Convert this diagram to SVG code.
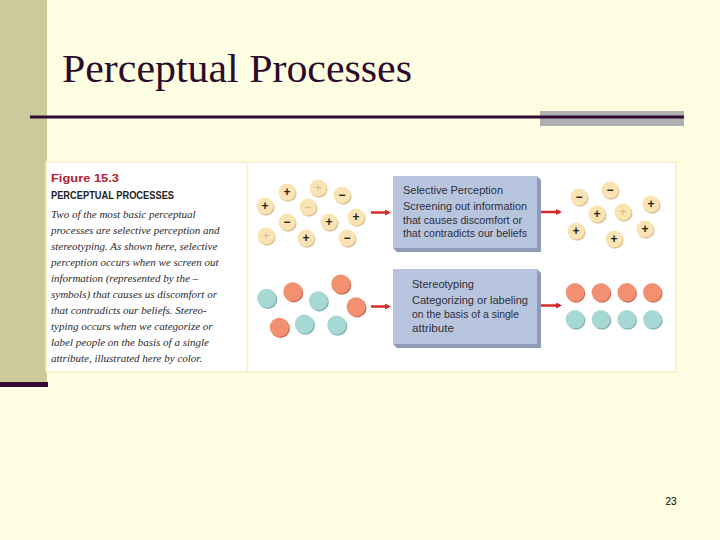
<svg xmlns="http://www.w3.org/2000/svg" width="720" height="540" viewBox="0 0 720 540">
  <defs>
    <style>
      .cap { font-family: "Liberation Serif", serif; font-style: italic; font-size: 11px; fill: #2a2a2a; }
      .boxt { font-family: "Liberation Sans", "DejaVu Sans", sans-serif; font-size: 10.5px; fill: #2e2e38; }
      .sym { font-family: "Liberation Sans", sans-serif; font-weight: bold; font-size: 12px; text-anchor: middle; fill: #222; }
      .faint { fill: #c9b48e; font-weight: normal; }
      .chip { fill: #fbe4b4; }
      .chipsh { fill: #dcc294; }
      .sal { fill: #f39072; }
      .salsh { fill: #cf6e55; }
      .teal { fill: #a6d8d4; }
      .tealsh { fill: #7fb5b2; }
      .arrow { stroke: #d42a2a; stroke-width: 2.5; fill: none; }
    </style>
    <marker id="ah" markerWidth="6" markerHeight="6" refX="4" refY="3" orient="auto" markerUnits="userSpaceOnUse">
      <path d="M0,0 L6,3 L0,6 Z" fill="#d42a2a"/>
    </marker>
  </defs>

  <!-- background -->
  <rect x="0" y="0" width="720" height="540" fill="#fefee2"/>
  <rect x="0" y="0" width="47" height="383" fill="#cbca9a"/>
  <rect x="0" y="382" width="48" height="5" fill="#330a33"/>

  <!-- title -->
  <text x="62" y="82" font-family="Liberation Serif, serif" font-size="41" fill="#2b0a2b" textLength="350" lengthAdjust="spacingAndGlyphs">Perceptual Processes</text>
  <rect x="540" y="111" width="144" height="15" fill="#b0b0b0"/>
  <rect x="30" y="115.5" width="654" height="3" fill="#330a33"/>

  <!-- figure frame -->
  <rect x="46" y="162" width="630" height="210" fill="#ffffff" stroke="#f4efc6" stroke-width="1.5"/>
  <line x1="247" y1="163" x2="247" y2="371" stroke="#f6f2d2" stroke-width="1.5"/>

  <!-- caption -->
  <g id="caption">
    <text x="51" y="182" font-family="Liberation Sans, sans-serif" font-weight="bold" font-size="11.5" fill="#b3202e" textLength="68" lengthAdjust="spacingAndGlyphs">Figure 15.3</text>
    <text x="51" y="199" font-family="Liberation Sans, sans-serif" font-weight="bold" font-size="10" fill="#222" textLength="123" lengthAdjust="spacingAndGlyphs">PERCEPTUAL PROCESSES</text>
    <text class="cap" x="51" y="218">Two of the most basic perceptual</text>
    <text class="cap" x="51" y="234">processes are selective perception and</text>
    <text class="cap" x="51" y="250">stereotyping. As shown here, selective</text>
    <text class="cap" x="51" y="266">perception occurs when we screen out</text>
    <text class="cap" x="51" y="282">information (represented by the –</text>
    <text class="cap" x="51" y="298">symbols) that causes us discomfort or</text>
    <text class="cap" x="51" y="314">that contradicts our beliefs. Stereo-</text>
    <text class="cap" x="51" y="330">typing occurs when we categorize or</text>
    <text class="cap" x="51" y="346">label people on the basis of a single</text>
    <text class="cap" x="51" y="362">attribute, illustrated here by color.</text>
  </g>

  <!-- input cluster: plus/minus chips -->
  <g id="chips-in">
    <g transform="translate(287,192)"><circle class="chipsh" cx="1" cy="1.2" r="8.5"/><circle class="chip" r="8.5"/><text class="sym" y="4">+</text></g>
    <g transform="translate(318,188)"><circle class="chipsh" cx="1" cy="1.2" r="8.5"/><circle class="chip" r="8.5"/><text class="sym faint" y="4">+</text></g>
    <g transform="translate(342,195)"><circle class="chipsh" cx="1" cy="1.2" r="8.5"/><circle class="chip" r="8.5"/><text class="sym" y="4">−</text></g>
    <g transform="translate(265,206)"><circle class="chipsh" cx="1" cy="1.2" r="8.5"/><circle class="chip" r="8.5"/><text class="sym" y="4">+</text></g>
    <g transform="translate(308,207)"><circle class="chipsh" cx="1" cy="1.2" r="8.5"/><circle class="chip" r="8.5"/><text class="sym faint" y="4">−</text></g>
    <g transform="translate(287,222)"><circle class="chipsh" cx="1" cy="1.2" r="8.5"/><circle class="chip" r="8.5"/><text class="sym" y="4">−</text></g>
    <g transform="translate(329,222)"><circle class="chipsh" cx="1" cy="1.2" r="8.5"/><circle class="chip" r="8.5"/><text class="sym" y="4">+</text></g>
    <g transform="translate(356,217)"><circle class="chipsh" cx="1" cy="1.2" r="8.5"/><circle class="chip" r="8.5"/><text class="sym" y="4">+</text></g>
    <g transform="translate(266,236)"><circle class="chipsh" cx="1" cy="1.2" r="8.5"/><circle class="chip" r="8.5"/><text class="sym faint" y="4">+</text></g>
    <g transform="translate(306,238)"><circle class="chipsh" cx="1" cy="1.2" r="8.5"/><circle class="chip" r="8.5"/><text class="sym" y="4">+</text></g>
    <g transform="translate(347,238)"><circle class="chipsh" cx="1" cy="1.2" r="8.5"/><circle class="chip" r="8.5"/><text class="sym" y="4">−</text></g>
  </g>

  <!-- output cluster -->
  <g id="chips-out">
    <g transform="translate(579,197)"><circle class="chipsh" cx="1" cy="1.2" r="8.5"/><circle class="chip" r="8.5"/><text class="sym" y="4">−</text></g>
    <g transform="translate(610,190)"><circle class="chipsh" cx="1" cy="1.2" r="8.5"/><circle class="chip" r="8.5"/><text class="sym" y="4">−</text></g>
    <g transform="translate(597,214)"><circle class="chipsh" cx="1" cy="1.2" r="8.5"/><circle class="chip" r="8.5"/><text class="sym" y="4">+</text></g>
    <g transform="translate(623,212)"><circle class="chipsh" cx="1" cy="1.2" r="8.5"/><circle class="chip" r="8.5"/><text class="sym faint" y="4">+</text></g>
    <g transform="translate(651,204)"><circle class="chipsh" cx="1" cy="1.2" r="8.5"/><circle class="chip" r="8.5"/><text class="sym" y="4">+</text></g>
    <g transform="translate(576,231)"><circle class="chipsh" cx="1" cy="1.2" r="8.5"/><circle class="chip" r="8.5"/><text class="sym" y="4">+</text></g>
    <g transform="translate(614,239)"><circle class="chipsh" cx="1" cy="1.2" r="8.5"/><circle class="chip" r="8.5"/><text class="sym" y="4" font-weight="normal">+</text></g>
    <g transform="translate(645,229)"><circle class="chipsh" cx="1" cy="1.2" r="8.5"/><circle class="chip" r="8.5"/><text class="sym" y="4" font-weight="normal">+</text></g>
  </g>

  <!-- colored dots input -->
  <g id="dots-in">
    <circle class="tealsh" cx="267.8" cy="299.5" r="9.5"/><circle class="teal" cx="266.7" cy="298.3" r="9.5"/>
    <circle class="tealsh" cx="319.4" cy="301.9" r="9.5"/><circle class="teal" cx="318.3" cy="300.7" r="9.5"/>
    <circle class="tealsh" cx="305.4" cy="325.2" r="9.5"/><circle class="teal" cx="304.3" cy="324" r="9.5"/>
    <circle class="tealsh" cx="337.8" cy="326.2" r="9.5"/><circle class="teal" cx="336.7" cy="325" r="9.5"/>
    <circle class="salsh" cx="293.8" cy="292.9" r="9.5"/><circle class="sal" cx="292.7" cy="291.7" r="9.5"/>
    <circle class="salsh" cx="341.8" cy="285.2" r="9.5"/><circle class="sal" cx="340.7" cy="284" r="9.5"/>
    <circle class="salsh" cx="357.1" cy="307.9" r="9.5"/><circle class="sal" cx="356" cy="306.7" r="9.5"/>
    <circle class="salsh" cx="280.4" cy="328.5" r="9.5"/><circle class="sal" cx="279.3" cy="327.3" r="9.5"/>
  </g>

  <!-- colored dots output -->
  <g id="dots-out">
    <circle class="salsh" cx="576" cy="293.5" r="9.3"/><circle class="sal" cx="575" cy="292.3" r="9.3"/>
    <circle class="salsh" cx="602" cy="293.5" r="9.3"/><circle class="sal" cx="601" cy="292.3" r="9.3"/>
    <circle class="salsh" cx="627.7" cy="293.5" r="9.3"/><circle class="sal" cx="626.7" cy="292.3" r="9.3"/>
    <circle class="salsh" cx="653.3" cy="293.5" r="9.3"/><circle class="sal" cx="652.3" cy="292.3" r="9.3"/>
    <circle class="tealsh" cx="576" cy="320.5" r="9.3"/><circle class="teal" cx="575" cy="319.3" r="9.3"/>
    <circle class="tealsh" cx="602" cy="320.5" r="9.3"/><circle class="teal" cx="601" cy="319.3" r="9.3"/>
    <circle class="tealsh" cx="627.7" cy="320.5" r="9.3"/><circle class="teal" cx="626.7" cy="319.3" r="9.3"/>
    <circle class="tealsh" cx="653.3" cy="320.5" r="9.3"/><circle class="teal" cx="652.3" cy="319.3" r="9.3"/>
  </g>

  <!-- box 1 -->
  <g id="selective-perception">
    <polygon points="537,176 541,180 541,252 397,252 393,248 537,248" fill="#8e9cba"/>
    <rect x="393" y="176" width="144" height="72" fill="#b8c5df"/>
    <text class="boxt" x="403" y="194" textLength="100" lengthAdjust="spacingAndGlyphs">Selective Perception</text>
    <text class="boxt" x="403" y="210" textLength="124" lengthAdjust="spacingAndGlyphs">Screening out information</text>
    <text class="boxt" x="403" y="223.5" textLength="119" lengthAdjust="spacingAndGlyphs">that causes discomfort or</text>
    <text class="boxt" x="403" y="237" textLength="124" lengthAdjust="spacingAndGlyphs">that contradicts our beliefs</text>
  </g>

  <!-- box 2 -->
  <g id="stereotyping">
    <polygon points="537,269 541,273 541,348 397,348 393,344 537,344" fill="#8e9cba"/>
    <rect x="393" y="269" width="144" height="75" fill="#b8c5df"/>
    <text class="boxt" x="412" y="288" textLength="62" lengthAdjust="spacingAndGlyphs">Stereotyping</text>
    <text class="boxt" x="412" y="304" textLength="116" lengthAdjust="spacingAndGlyphs">Categorizing or labeling</text>
    <text class="boxt" x="412" y="318" textLength="107" lengthAdjust="spacingAndGlyphs">on the basis of a single</text>
    <text class="boxt" x="412" y="332" textLength="42" lengthAdjust="spacingAndGlyphs">attribute</text>
  </g>

  <!-- connectors -->
  <g id="connectors">
    <line class="arrow" x1="371" y1="212.5" x2="389" y2="212.5" marker-end="url(#ah)"/>
    <line class="arrow" x1="541" y1="212" x2="560" y2="212" marker-end="url(#ah)"/>
    <line class="arrow" x1="371" y1="306.5" x2="389" y2="306.5" marker-end="url(#ah)"/>
    <line class="arrow" x1="541" y1="305.5" x2="560" y2="305.5" marker-end="url(#ah)"/>
  </g>

  <!-- page number -->
  <text x="671" y="505" font-family="Liberation Sans, sans-serif" font-size="10" text-anchor="middle" fill="#000">23</text>
</svg>
